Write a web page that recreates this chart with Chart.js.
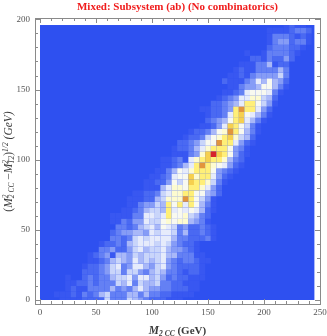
<!DOCTYPE html>
<html><head><meta charset="utf-8">
<style>html,body{margin:0;padding:0;background:#fff}canvas{display:block;filter:blur(0.3px)}#w{width:327px;height:336px}</style>
<script src="https://cdn.jsdelivr.net/npm/chart.js@4"></script></head>
<body><div id="w"><canvas id="c" width="327" height="336"></canvas></div>
<script>
const titleText = "Mixed: Subsystem (ab) (No combinatorics)";
const xTickValues = [0,10,20,30,40,50,60,70,80,90,100,110,120,130,140,150,160,170,180,190,200,210,220,230,240,250];
const yTickValues = [0,10,20,30,40,50,60,70,80,90,100,110,120,130,140,150,160,170,180,190,200];
const xBin = 5, yBin = 4;
// first non-empty column of each row (bottom row first)
const rowStart = [4,3,5,5,5,8,8,9,9,11,11,13,13,14,13,13,15,16,16,17,19,19,20,21,22,22,24,24,25,26,27,29,30,30,29,31,32,33,34,33,34,35,36,38,37,41,41,41,41,44];
// binned levels along each row
const rowLevels = [
[1,1,1,1,2,2,2,2,6,3,3,3,6,5,4,3,2,2,2,1,1,1],
[1,1,1,2,1,3,2,3,5,6,3,3,3,5,5,3,5,3,3,2,2,1,1,1,1],
[1,2,1,1,3,3,3,3,5,3,4,3,5,7,5,4,4,3,3,2,2,2,1,1],
[1,1,2,2,3,2,3,3,3,6,5,7,3,6,5,5,6,3,3,2,2,1,1,1],
[1,0,0,2,3,2,3,3,5,6,6,7,4,7,7,5,6,4,2,3,2,2,1,1,1],
[2,2,2,3,4,6,6,3,6,6,4,3,5,6,5,3,3,2,1,2,2,1],
[1,2,2,3,4,6,7,3,4,7,7,5,4,6,7,4,3,2,2,2,2,1],
[1,1,2,3,5,6,5,4,7,5,6,5,6,7,4,3,2,3,3,2,1,1],
[1,2,3,4,1,5,5,4,6,5,6,6,6,7,5,5,3,3,3,1,1],
[3,3,4,2,2,4,6,7,5,6,6,7,5,4,4,3,2,1],
[1,2,2,3,2,5,6,7,7,7,6,7,6,4,3,2,2,1],
[3,3,2,3,6,7,6,7,7,7,7,5,3,3,2,2,2,3,1],
[2,3,4,4,5,5,4,7,6,7,7,6,3,5,2,2,3,2,1],
[3,3,2,3,5,6,7,5,8,7,6,3,4,2,2,3,2,1],
[1,1,3,2,4,4,7,6,6,8,9,8,9,9,5,4,3,1],
[1,1,1,1,3,3,7,7,6,7,10,8,8,9,6,5,3,2],
[1,1,2,3,5,6,6,5,10,7,8,7,8,7,5,2,1],
[1,1,3,4,4,6,5,10,8,10,7,10,8,5,3,1],
[1,1,1,2,2,5,6,9,9,9,12,10,8,6,4,1],
[1,1,2,2,3,6,7,9,9,10,10,8,8,5,4,2],
[1,1,1,5,7,9,9,8,10,10,9,7,4,2],
[1,1,2,2,4,8,6,8,11,10,10,9,6,3,1],
[1,1,2,3,7,8,8,11,9,10,10,7,4,2,1],
[1,1,3,5,8,7,9,10,10,10,8,4,3,2,1],
[1,1,2,3,5,7,10,12,10,9,8,7,4,2,1],
[1,1,2,3,1,7,9,10,11,10,10,9,5,3,2],
[1,1,1,3,4,9,11,13,11,10,8,4,2,1],
[1,2,2,3,5,7,9,10,10,10,8,4,3,1],
[2,2,3,4,6,8,8,12,10,10,7,4,2,1],
[1,2,2,3,6,8,9,10,11,9,6,5,2],
[1,2,2,3,5,8,9,12,10,8,5,3,1],
[1,1,2,4,7,11,10,8,6,3,1],
[2,3,4,5,8,10,11,7,5,3,1],
[1,2,2,3,7,10,11,8,7,5,3,1],
[1,1,2,2,3,4,10,12,10,10,7,4,2],
[2,2,3,4,5,7,10,10,8,6,4,1],
[1,2,3,4,7,7,9,9,6,5,2],
[1,1,2,3,7,8,8,8,7,3,1],
[1,1,3,4,4,5,8,8,5,3,1],
[2,1,1,1,3,4,7,5,8,5,4,2],
[1,1,2,1,3,4,4,4,4,6,3],
[1,2,1,1,3,3,3,3,5,3],
[1,1,1,3,3,5,1,2,2],
[2,2,1,3,2,2,4,2],
[1,0,0,1,3,3,3,3,2,1],
[2,3,3,3,2,2,1],
[1,3,4,4,2,3,3,1],
[1,3,3,3,2,1,2,1],
[1,1,1,1,2,3,3,2],
[1,2,1,1]
];
const levelColors = ["#2e50f0","#3857f1","#4a69f2","#6480f4","#869cf6","#a9b8f8","#c9d5fa","#e6ebfb","#f8f9f0","#fdfbd0","#ffef78","#f6d04e","#e2953c","#d6222c"];
const axisFont = "'Liberation Serif'";

const points = [], colors = [];
rowLevels.forEach((levels, j) => levels.forEach((lv, k) => {
  if (lv > 0) { points.push({x:(rowStart[j]+k)*xBin, y:j*yBin}); colors.push(levelColors[lv]); }
}));

function drawRuns(ctx, runs, cx, cy, rot){
  ctx.save(); ctx.translate(cx, cy); if (rot) ctx.rotate(rot);
  ctx.textBaseline = "alphabetic"; ctx.textAlign = "left";
  let w = 0; runs.forEach(r => { ctx.font = r.f; r.w = r.adv === 0 ? 0 : ctx.measureText(r.t).width; w += r.w; });
  let x = -w/2;
  runs.forEach(r => { ctx.font = r.f; ctx.fillStyle = "#3a3a3a"; ctx.fillText(r.t, x, r.d||0); x += r.w; });
  ctx.restore();
}
const B = "bold 11px " + axisFont, BI = "italic bold 11.5px " + axisFont, SI = "italic bold 7.5px " + axisFont;
const R = "11.5px " + axisFont, I = "italic 11.5px " + axisFont, SM = "italic 7.5px " + axisFont;
const xLabelRuns = [{t:"M",f:BI},{t:"2 CC",f:SI,d:2},{t:" (GeV)",f:B}];
const yLabelRuns = [{t:"(",f:R},{t:"M",f:I},{t:"2",f:SM,d:-4,adv:0},{t:"2 CC",f:SM,d:2},{t:" \u2212",f:R},{t:"M",f:I},{t:"2",f:SM,d:-4,adv:0},{t:"T2",f:SM,d:2},{t:")",f:R},{t:"1/2",f:SM,d:-4},{t:" (GeV)",f:I}];

const decor = {
  id:"decor",
  beforeDatasetsDraw(chart){
    const {ctx, scales:{x,y}} = chart;
    const l=x.getPixelForValue(0), r=x.getPixelForValue(245), t=y.getPixelForValue(196), b=y.getPixelForValue(0);
    ctx.save();
    ctx.fillStyle = levelColors[0]; ctx.fillRect(l,t,r-l,b-t);
    ctx.beginPath(); ctx.rect(l,t,r-l,b-t); ctx.clip();
  },
  afterDatasetsDraw(chart){
    const {ctx, chartArea:a, scales:{x,y}} = chart;
    ctx.restore();
    ctx.save();
    ctx.strokeStyle = "#8a8a8a"; ctx.lineWidth = 1;
    ctx.strokeRect(Math.round(a.left)+.5, Math.round(a.top)+.5, Math.round(a.right-a.left), Math.round(a.bottom-a.top));
    ctx.beginPath();
    xTickValues.forEach(v => { const p=Math.round(x.getPixelForValue(v))+.5, n=v%50===0?5:3;
      ctx.moveTo(p,a.bottom); ctx.lineTo(p,a.bottom-n); ctx.moveTo(p,a.top); ctx.lineTo(p,a.top+n); });
    yTickValues.forEach(v => { const p=Math.round(y.getPixelForValue(v))+.5, n=v%50===0?5:3;
      ctx.moveTo(a.left,p); ctx.lineTo(a.left+n,p); ctx.moveTo(a.right,p); ctx.lineTo(a.right-n,p); });
    ctx.stroke(); ctx.restore();
    drawRuns(ctx, xLabelRuns, 177.5, 334, 0);
    drawRuns(ctx, yLabelRuns, 12, 161.5, -Math.PI/2);
  }
};

new Chart(document.getElementById("c"), {
  type:"scatter",
  data:{datasets:[{data:points, pointStyle:"rect", pointRadius:4.0, pointBorderWidth:0, pointBackgroundColor:colors, pointHoverRadius:4.0}]},
  plugins:[decor],
  options:{
    responsive:false, animation:false, events:[],
    layout:{padding:{left:0,right:7,top:0,bottom:0}},
    plugins:{legend:{display:false},tooltip:{enabled:false},
      title:{display:true,text:titleText,color:"#f01c1c",fullSize:false,font:{family:axisFont,size:11,weight:"bold",lineHeight:1.2},padding:{top:1,bottom:3.8}}},
    scales:{
      x:{type:"linear",min:-4.46,max:250,
        afterBuildTicks(s){s.ticks=xTickValues.map(v=>({value:v}));},
        afterFit(s){s.height=32;s.paddingLeft=0;s.paddingRight=0;},
        border:{display:false},grid:{display:false,drawTicks:false},
        ticks:{autoSkip:false,maxRotation:0,padding:3,color:"#555",font:{family:axisFont,size:9},callback:v=>v%50===0?String(v):""}},
      y:{type:"linear",min:-2.85,max:201,
        afterBuildTicks(s){s.ticks=yTickValues.map(v=>({value:v}));},
        afterFit(s){s.width=35;s.paddingTop=0;s.paddingBottom=0;},
        border:{display:false},grid:{display:false,drawTicks:false},
        ticks:{autoSkip:false,padding:5,color:"#555",font:{family:axisFont,size:9},callback:v=>v%50===0?String(v):""}}
    }
  }
});
</script></body></html>
